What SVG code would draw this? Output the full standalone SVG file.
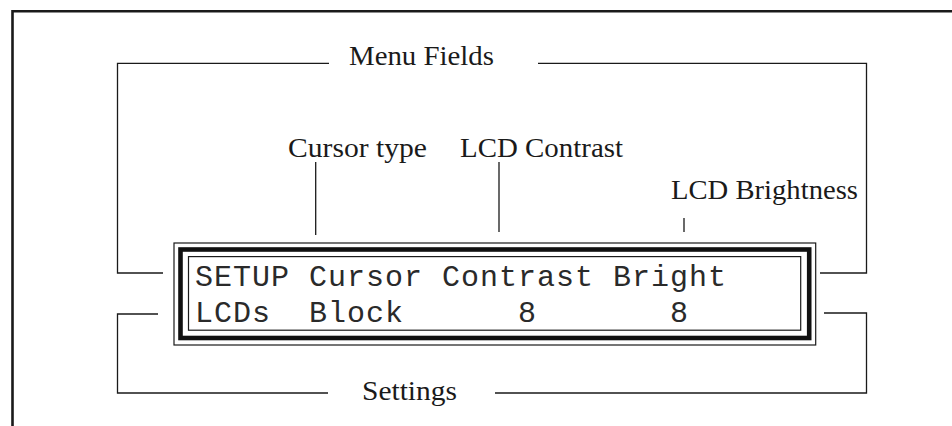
<svg xmlns="http://www.w3.org/2000/svg" width="952" height="426" viewBox="0 0 952 426">
<style>
.ln{fill:none;stroke:#1a1a1a;stroke-width:1.3}
.lbl{font-family:"Liberation Serif","Times New Roman",serif;font-size:27px;fill:#1a1a1a}
.lcd{font-family:"Liberation Mono","Courier New",monospace;font-size:30px;letter-spacing:1px;fill:#2a2a2a;white-space:pre}
</style>
<rect width="952" height="426" fill="#ffffff"/>
<g id="frame">
<path d="M12.5,426 V11.3 H952" fill="none" stroke="#1a1a1a" stroke-width="2.6"/>
</g>
<g id="lcd-display">
<rect x="174" y="243" width="641.7" height="102" fill="none" stroke="#1a1a1a" stroke-width="1.2"/>
<rect x="180.5" y="249.5" width="628.7" height="88.5" fill="none" stroke="#111" stroke-width="4.6"/>
<rect x="188.5" y="256.6" width="612.2" height="73.6" fill="none" stroke="#1a1a1a" stroke-width="1.2"/>
<text class="lcd" x="195" y="286" xml:space="preserve">SETUP Cursor Contrast Bright</text>
<text class="lcd" x="195" y="322" xml:space="preserve">LCDs  Block      8       8</text>
</g>
<g id="menu-fields">
<text class="lbl" x="349" y="65" textLength="145" lengthAdjust="spacingAndGlyphs">Menu Fields</text>
</g>
<g id="cursor-type">
<text class="lbl" x="288" y="157" textLength="139" lengthAdjust="spacingAndGlyphs">Cursor type</text>
</g>
<g id="lcd-contrast">
<text class="lbl" x="460" y="157" textLength="163" lengthAdjust="spacingAndGlyphs">LCD Contrast</text>
</g>
<g id="lcd-brightness">
<text class="lbl" x="671" y="199" textLength="187" lengthAdjust="spacingAndGlyphs">LCD Brightness</text>
</g>
<g id="settings">
<text class="lbl" x="362" y="400" textLength="95" lengthAdjust="spacingAndGlyphs">Settings</text>
</g>
<g id="connectors">
<polyline class="ln" points="163,273 117.5,273 117.5,63.3 329,63.3"/>
<polyline class="ln" points="538,63.3 866.5,63.3 866.5,273 820,273"/>
<polyline class="ln" points="158,314 117.5,314 117.5,393 328,393"/>
<polyline class="ln" points="495,393 866.5,393 866.5,313 824,313"/>
<line class="ln" x1="315.7" y1="162" x2="315.7" y2="235"/>
<line class="ln" x1="499" y1="162" x2="499" y2="232"/>
<line class="ln" x1="684" y1="218" x2="684" y2="232"/>
</g>
</svg>
